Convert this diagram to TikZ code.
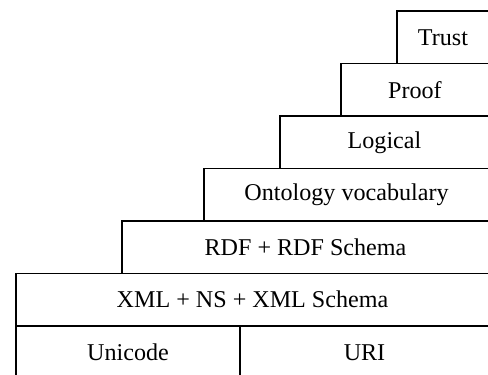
\documentclass[tikz,border=0pt]{standalone}
\usepackage{fontspec}
\setmainfont{Liberation Serif}
\usetikzlibrary{positioning}

\begin{document}
\begin{tikzpicture}[x=1pt, y=1pt, font=\fontsize{24.1}{28}\selectfont, layer/.style={draw, line width=1.1pt, outer sep=0pt, inner sep=0pt, minimum height=52.5pt, anchor=north east}]
\useasboundingbox (0,0) rectangle (488,-375);
\node[layer, minimum width=92pt] (trust) at (489,-11) {Trust};
\node[layer, minimum width=148pt] (proof) at (trust.south east) {Proof};
\node[layer, minimum width=209pt] (logic) at (proof.south east) {Logical};
\node[layer, minimum width=285pt] (onto) at (logic.south east) {Ontology vocabulary};
\node[layer, minimum width=367pt] (rdf) at (onto.south east) {RDF + RDF Schema};
\node[layer, minimum width=473pt] (xml) at (rdf.south east) {XML + NS + XML Schema};
\node[layer, minimum width=249pt] (uri) at (xml.south east) {URI};
\node[layer, minimum width=224pt] (uni) at (uri.north west) {Unicode};
\draw[line width=2pt] (xml.south west) -- (xml.south east);
\end{tikzpicture}
\end{document}
